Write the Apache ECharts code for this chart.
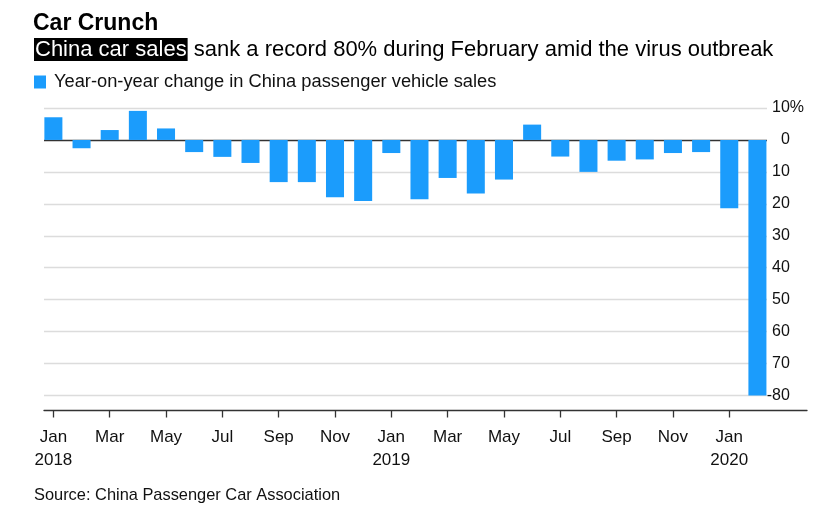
<!DOCTYPE html>
<html>
<head>
<meta charset="utf-8">
<script src="https://cdn.jsdelivr.net/npm/echarts@6/dist/echarts.min.js"></script>
<style>
  html, body { margin: 0; padding: 0; background: #fff; }
  #chart { width: 824px; height: 519px; }
</style>
</head>
<body>
<div id="chart"></div>
<script>
var months = ['Jan 2018', 'Feb 2018', 'Mar 2018', 'Apr 2018', 'May 2018', 'Jun 2018',
  'Jul 2018', 'Aug 2018', 'Sep 2018', 'Oct 2018', 'Nov 2018', 'Dec 2018',
  'Jan 2019', 'Feb 2019', 'Mar 2019', 'Apr 2019', 'May 2019', 'Jun 2019',
  'Jul 2019', 'Aug 2019', 'Sep 2019', 'Oct 2019', 'Nov 2019', 'Dec 2019',
  'Jan 2020', 'Feb 2020'];
// year-on-year change, %
var yoy = [7.1, -2.6, 3.1, 9.1, 3.6, -3.8,
  -5.3, -7.2, -13.2, -13.2, -17.9, -19.1,
  -4.1, -18.6, -11.9, -16.8, -12.4, 4.8,
  -5.2, -10.0, -6.5, -6.1, -4.1, -3.8,
  -21.4, -80.0];
var yTicks = [-80, -70, -60, -50, -40, -30, -20, -10, 0, 10];

var seriesName = 'Year-on-year change in China passenger vehicle sales';
var font = 'Liberation Sans';

var myChart = echarts.init(document.getElementById('chart'));

// gridline colours, the one at 0 is dark
var lineColors = [];
for (var i = 0; i < yTicks.length; i++) {
  lineColors.push(yTicks[i] === 0 ? '#333' : '#dcdcdc');
}

var option = {
  animation: false,
  textStyle: { fontFamily: font },
  title: [
    {
      text: 'Car Crunch',
      left: 33, top: 12, padding: 0,
      textStyle: { fontFamily: font, fontSize: 23, fontWeight: 'bold', color: '#000' }
    },
    {
      text: '{hl|China car sales} sank a record 80% during February amid the virus outbreak',
      left: 34, top: 38, padding: 0,
      textStyle: {
        fontFamily: font, fontSize: 22, fontWeight: 'normal', color: '#000',
        rich: {
          hl: { backgroundColor: '#000', color: '#fff', fontSize: 22, fontFamily: font, padding: [1, 1, 0, 1] }
        }
      }
    },
    {
      text: 'Source: China Passenger Car Association',
      left: 34, top: 487, padding: 0,
      textStyle: { fontFamily: font, fontSize: 16.4, fontWeight: 'normal', color: '#111' }
    }
  ],
  legend: {
    data: [seriesName],
    left: 34, top: 73, padding: 0,
    icon: 'rect', itemWidth: 12, itemHeight: 13,
    selectedMode: false,
    textStyle: { fontFamily: font, fontSize: 18.3, color: '#111', padding: [0, 0, 0, 3] }
  },
  grid: [
    { left: 39.3, right: 52.5, top: 108, bottom: 123.5 },
    { left: 44, right: 57, top: 108, bottom: 123.5 },
    { left: 44, right: 17, top: 108, bottom: 123.5 }
  ],
  xAxis: [
    {
      type: 'category', gridIndex: 0, data: months,
      position: 'bottom', offset: 15,
      axisLine: { show: false, onZero: false },
      axisTick: { show: true, interval: 1, alignWithLabel: true, length: 7, lineStyle: { color: '#333', width: 1.3 } },
      axisLabel: {
        interval: 1, margin: 15, fontSize: 17, lineHeight: 23.5, color: '#111', fontFamily: font,
        formatter: function (v) {
          var p = v.split(' ');
          return p[0] === 'Jan' ? p[0] + '\n' + p[1] : p[0];
        }
      },
      splitLine: { show: false }
    },
    { type: 'value', gridIndex: 1, min: 0, max: 1, show: false },
    {
      type: 'value', gridIndex: 2, min: 0, max: 1,
      position: 'bottom', offset: 15,
      axisLine: { show: true, onZero: false, lineStyle: { color: '#333', width: 1.3 } },
      axisTick: { show: false }, axisLabel: { show: false }, splitLine: { show: false }
    }
  ],
  yAxis: [
    {
      type: 'value', gridIndex: 0, position: 'right', z: 5,
      min: -80, max: 10, interval: 10,
      axisLine: { show: false }, axisTick: { show: false }, splitLine: { show: false },
      axisLabel: {
        align: 'right', margin: 32.5, fontSize: 16, color: '#111', fontFamily: font,
        formatter: function (v) {
          var t = v === -80 || v === 0 ? String(v) : String(Math.abs(v));
          return '{n|' + t + '}' + (v === 10 ? '{p|%}' : '{q|%}');
        },
        rich: {
          n: { fontSize: 16, color: '#111', fontFamily: font },
          p: { fontSize: 16, color: '#111', fontFamily: font },
          q: { fontSize: 16, color: 'rgba(0,0,0,0)', fontFamily: font }
        }
      }
    },
    {
      type: 'value', gridIndex: 1, min: -80, max: 10, interval: 10, z: 0,
      axisLine: { show: false }, axisTick: { show: false }, axisLabel: { show: false },
      splitLine: { show: true, lineStyle: { color: lineColors, width: 1.4 } }
    },
    { type: 'value', gridIndex: 2, min: 0, max: 1, show: false }
  ],
  series: [
    {
      name: seriesName,
      type: 'bar',
      xAxisIndex: 0, yAxisIndex: 0,
      data: yoy,
      barWidth: '64%',
      itemStyle: { color: '#1b9cfc' }
    }
  ]
};

myChart.setOption(option);
</script>
</body>
</html>
